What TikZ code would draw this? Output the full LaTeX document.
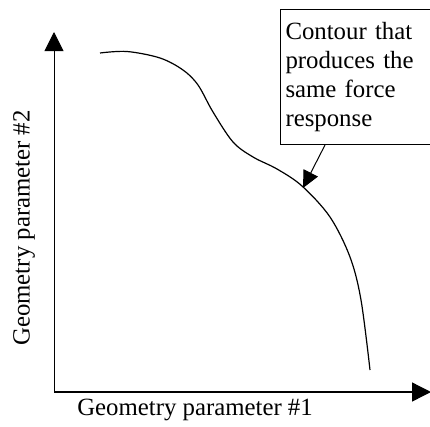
\documentclass[tikz,border=0pt]{standalone}
\usepackage{fontspec}
\setmainfont{Liberation Serif}
\usetikzlibrary{positioning,arrows.meta}

\begin{document}
\begin{tikzpicture}[x=1pt,y=-1pt,>={Triangle[length=19pt,width=19pt]},
  font=\fontsize{24.8}{28.7}\selectfont]
\useasboundingbox (0,0) rectangle (430,426);

% Axes
\coordinate (origin) at (54,392);
\coordinate (xend) at (431,392);
\coordinate (yend) at (54,32);
\draw [->, line width=1.3pt] (origin) -- (xend);
\draw [->, line width=1pt] (origin) -- (yend);

% Axis labels
\node (xlabel) [inner sep=0pt] at (195,410) {Geometry parameter \#1};
\node (ylabel) [rotate=90, inner sep=0pt] at (24,228) {Geometry parameter \#2};

% Contour of equal force response
\draw [line width=1.2pt] plot [smooth, tension=0.55] coordinates {
  (100,53) (127,51.5) (160,58) (183,70) (198,85) (213,112) (233,142)
  (253,157) (277,169) (302,186) (330,217) (350,257) (361,300) (370,370)};
\coordinate (tip) at (303,188);

% Callout box
\node (callout) [draw, line width=1pt, anchor=north west, minimum width=152pt,
  minimum height=135pt, text width=142pt, inner sep=5pt, align=left] at (280,9)
  {Contour that\\produces the\\same force\\response};
\draw [-{Triangle[length=17pt,width=16pt]}, line width=1pt]
  ([xshift=45pt]callout.south west) -- (tip);
\end{tikzpicture}
\end{document}
